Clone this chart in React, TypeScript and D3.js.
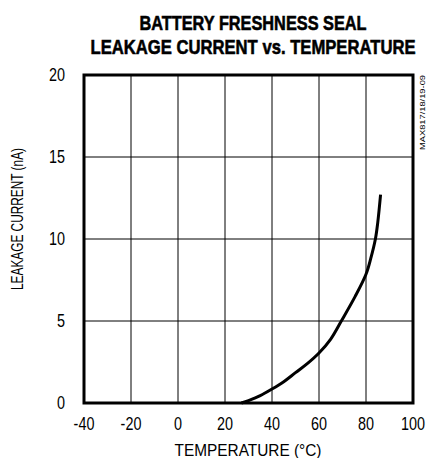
import { useEffect, useRef } from 'react'
import * as d3 from 'd3'

const temps = [27, 30, 35, 40, 45, 50, 55, 60, 65, 69.5, 75.4, 80, 82, 84, 85, 86.2]
const leakage = [0, 0.15, 0.45, 0.85, 1.3, 1.85, 2.4, 3.05, 3.9, 5.0, 6.5, 7.85, 8.8, 10, 11, 12.7]

const xTicks = [-40, -20, 0, 20, 40, 60, 80, 100]
const yTicks = [0, 5, 10, 15, 20]

const titleLines = ['BATTERY FRESHNESS SEAL', 'LEAKAGE CURRENT vs. TEMPERATURE']
const titleWidths = [227, 325]
const xLabel = 'TEMPERATURE (°C)'
const yLabel = 'LEAKAGE CURRENT (nA)'
const partCode = 'MAX817/18/19-09'

const FONT = "'Liberation Sans', Arial, sans-serif"
const SQUEEZE = 0.8

export default function App() {
  const ref = useRef<SVGSVGElement>(null)

  useEffect(() => {
    if (!ref.current) return
    const W = 433
    const H = 458
    const margin = { top: 75, right: 20, bottom: 55, left: 84 }
    const inner = { w: W - margin.left - margin.right, h: H - margin.top - margin.bottom }

    d3.select(ref.current).selectAll('*').remove()

    const svg = d3
      .select(ref.current)
      .attr('width', W)
      .attr('height', H)
      .attr('viewBox', `0 0 ${W} ${H}`)
      .style('font-family', FONT)
      .style('background', '#fff')

    const g = svg.append('g').attr('transform', `translate(${margin.left},${margin.top})`)

    const x = d3.scaleLinear().domain([-40, 100]).range([0, inner.w])
    const y = d3.scaleLinear().domain([0, 20]).range([inner.h, 0])

    // Grid
    g.append('g')
      .selectAll('line')
      .data(xTicks.slice(1, -1))
      .join('line')
      .attr('x1', (d) => x(d))
      .attr('x2', (d) => x(d))
      .attr('y1', 0)
      .attr('y2', inner.h)
      .attr('stroke', '#000')
      .attr('stroke-width', 1)

    g.append('g')
      .selectAll('line')
      .data(yTicks.slice(1, -1))
      .join('line')
      .attr('x1', 0)
      .attr('x2', inner.w)
      .attr('y1', (d) => y(d))
      .attr('y2', (d) => y(d))
      .attr('stroke', '#000')
      .attr('stroke-width', 1)

    // Frame
    g.append('rect')
      .attr('x', 0)
      .attr('y', 0)
      .attr('width', inner.w)
      .attr('height', inner.h)
      .attr('fill', 'none')
      .attr('stroke', '#000')
      .attr('stroke-width', 3)

    // Curve
    const line = d3
      .line<number>()
      .x((_, i) => x(temps[i]))
      .y((d) => y(d))
      .curve(d3.curveCatmullRom)

    g.append('path')
      .datum(leakage)
      .attr('d', line)
      .attr('fill', 'none')
      .attr('stroke', '#000')
      .attr('stroke-width', 3)

    // X tick labels (horizontally squeezed to mimic a narrow face)
    g.append('g')
      .selectAll('text')
      .data(xTicks)
      .join('text')
      .attr('transform', (d) => `translate(${x(d)},${inner.h + 27}) scale(${SQUEEZE},1)`)
      .attr('text-anchor', 'middle')
      .attr('font-size', 18)
      .attr('fill', '#000')
      .text((d) => d)

    // Y tick labels
    g.append('g')
      .selectAll('text')
      .data(yTicks)
      .join('text')
      .attr('transform', (d) => `translate(-19,${y(d)}) scale(${SQUEEZE},1)`)
      .attr('dy', '0.35em')
      .attr('text-anchor', 'end')
      .attr('font-size', 18)
      .attr('fill', '#000')
      .text((d) => d)

    // Title
    svg.append('g')
      .selectAll('text')
      .data(titleLines)
      .join('text')
      .attr('x', 253)
      .attr('y', (_, i) => 30 + i * 24)
      .attr('text-anchor', 'middle')
      .attr('font-size', 21)
      .attr('font-weight', 'bold')
      .attr('textLength', (_, i) => titleWidths[i])
      .attr('lengthAdjust', 'spacingAndGlyphs')
      .attr('fill', '#000')
      .attr('stroke', '#000')
      .attr('stroke-width', 0.6)
      .text((d) => d)

    // Axis titles
    svg.append('text')
      .attr('x', 248)
      .attr('y', 456)
      .attr('text-anchor', 'middle')
      .attr('font-size', 16)
      .attr('textLength', 147)
      .attr('lengthAdjust', 'spacingAndGlyphs')
      .attr('fill', '#000')
      .text(xLabel)

    svg.append('text')
      .attr('transform', `translate(23,219) rotate(-90)`)
      .attr('text-anchor', 'middle')
      .attr('font-size', 16)
      .attr('textLength', 142)
      .attr('lengthAdjust', 'spacingAndGlyphs')
      .attr('fill', '#000')
      .text(yLabel)

    // Part code
    svg.append('text')
      .attr('transform', `translate(425,150) rotate(-90)`)
      .attr('text-anchor', 'start')
      .attr('font-size', 8)
      .attr('textLength', 75)
      .attr('lengthAdjust', 'spacingAndGlyphs')
      .attr('fill', '#000')
      .text(partCode)
  }, [])

  return (
    <div style={{ position: 'absolute', left: 0, top: 0, background: '#fff' }}>
      <svg ref={ref} style={{ display: 'block' }} />
    </div>
  )
}
